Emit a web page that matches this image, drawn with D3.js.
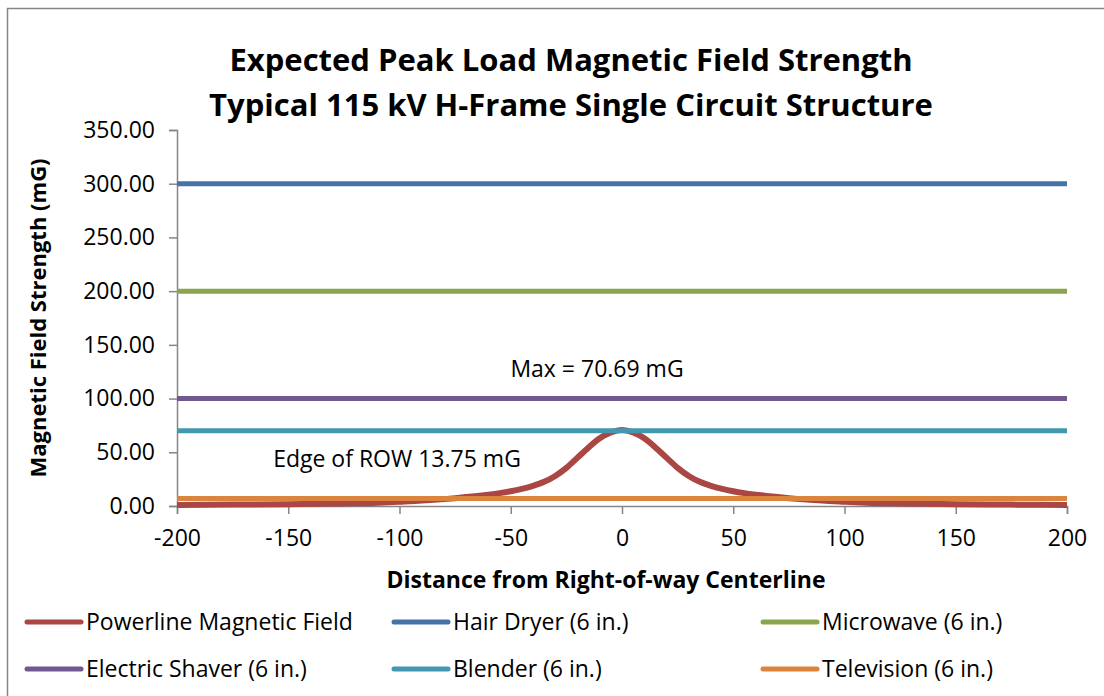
<!DOCTYPE html>
<html>
<head>
<meta charset="utf-8">
<script src="https://cdn.jsdelivr.net/npm/d3@7"></script>
<style>
  body { margin: 0; background: #fff; }
  text { font-family: "Open Sans", sans-serif; fill: #000; }
</style>
</head>
<body>
<div id="chart"></div>
<script>
/* Data */
var distance = [-200, -175, -150, -125, -110, -100, -90, -80, -75, -70, -65, -60, -55, -50, -45, -40, -35, -30, -25, -20, -15, -10, -5,
                0, 5, 10, 15, 20, 25, 30, 35, 40, 45, 50, 55, 60, 65, 70, 75, 80, 90, 100, 110, 125, 150, 175, 200];
var powerline = [1.0, 1.3, 1.7, 2.4, 3.1, 4.0, 5.0, 6.4, 7.3, 8.3, 9.4, 10.6, 12.0, 13.75, 16.0, 18.8, 22.5, 28.0, 35.5, 45.0, 54.5, 63.0, 68.5,
                 70.69, 68.5, 63.0, 54.5, 45.0, 35.5, 28.0, 22.5, 18.8, 16.0, 13.75, 12.0, 10.6, 9.4, 8.3, 7.3, 6.4, 5.0, 4.0, 3.1, 2.4, 1.7, 1.3, 1.0];

var applianceNames = ["Hair Dryer (6 in.)", "Microwave (6 in.)", "Electric Shaver (6 in.)", "Blender (6 in.)", "Television (6 in.)"];
var applianceValues = [300, 200, 100, 70, 7];

var legendNames = ["Powerline Magnetic Field", "Hair Dryer (6 in.)", "Microwave (6 in.)",
                   "Electric Shaver (6 in.)", "Blender (6 in.)", "Television (6 in.)"];

var xTicks = [-200, -150, -100, -50, 0, 50, 100, 150, 200];
var yTicks = [0, 50, 100, 150, 200, 250, 300, 350];

/* Settings */
var width = 1104,
    height = 696,
    plotLeft = 177,
    plotRight = 1067,
    plotTop = 130,
    plotBottom = 506;

var colors = {
  "Powerline Magnetic Field": "#AA4643",
  "Hair Dryer (6 in.)": "#4572A7",
  "Microwave (6 in.)": "#89A54E",
  "Electric Shaver (6 in.)": "#71588F",
  "Blender (6 in.)": "#4198AF",
  "Television (6 in.)": "#DB843D"
};

var x = d3.scaleLinear().domain([-200, 200]).range([plotLeft, plotRight]);
var y = d3.scaleLinear().domain([0, 350]).range([plotBottom, plotTop]);

var svg = d3.select("#chart").append("svg")
    .attr("width", width)
    .attr("height", height);

/* Frame */
svg.append("rect")
  .attr("x", 7.5).attr("y", 8.5)
  .attr("width", 1120).attr("height", 720)
  .attr("fill", "none")
  .attr("stroke", "#868686")
  .attr("stroke-width", 1.5);

/* Title */
var title = svg.append("text")
  .attr("text-anchor", "middle")
  .attr("font-weight", "bold")
  .attr("font-size", 31);
title.append("tspan").attr("x", 571).attr("y", 71).text("Expected Peak Load Magnetic Field Strength");
title.append("tspan").attr("x", 571).attr("y", 116).text("Typical 115 kV H-Frame Single Circuit Structure");

/* Axes */
var yAxis = svg.append("g")
  .attr("transform", "translate(" + plotLeft + ",0)")
  .call(d3.axisLeft(y).tickValues(yTicks).tickFormat(d3.format(".2f")).tickSize(8).tickPadding(14));

var xAxis = svg.append("g")
  .attr("transform", "translate(0," + plotBottom + ")")
  .call(d3.axisBottom(x).tickValues(xTicks).tickFormat(function(d) { return String(d); }).tickSize(8).tickPadding(16));

[xAxis, yAxis].forEach(function(g) {
  g.select(".domain").attr("stroke", "#868686").attr("stroke-width", 1.5);
  g.selectAll(".tick line").attr("stroke", "#868686").attr("stroke-width", 1.5);
  g.selectAll(".tick text").attr("font-size", 23).attr("font-family", "Open Sans").attr("fill", "#000");
});

/* Axis titles */
svg.append("text")
  .attr("transform", "translate(46,318) rotate(-90)")
  .attr("text-anchor", "middle")
  .attr("font-weight", "bold")
  .attr("font-size", 22)
  .text("Magnetic Field Strength (mG)");

svg.append("text")
  .attr("x", 606).attr("y", 588)
  .attr("text-anchor", "middle")
  .attr("font-weight", "bold")
  .attr("font-size", 23)
  .text("Distance from Right-of-way Centerline");

/* Series */
var line = d3.line()
  .x(function(d, i) { return x(distance[i]); })
  .y(function(d) { return y(d); })
  .curve(d3.curveMonotoneX);

svg.append("path")
  .datum(powerline)
  .attr("fill", "none")
  .attr("stroke", colors["Powerline Magnetic Field"])
  .attr("stroke-width", 6)
  .attr("d", line);

svg.selectAll(".appliance")
  .data(applianceValues)
  .enter().append("line")
  .attr("class", "appliance")
  .attr("x1", x(-200)).attr("x2", x(200))
  .attr("y1", function(d) { return y(d); })
  .attr("y2", function(d) { return y(d); })
  .attr("stroke", function(d, i) { return colors[applianceNames[i]]; })
  .attr("stroke-width", 5);

/* Annotations */
svg.append("text")
  .attr("x", 597).attr("y", 377)
  .attr("text-anchor", "middle")
  .attr("font-size", 23)
  .text("Max = 70.69 mG");

svg.append("text")
  .attr("x", 397).attr("y", 467)
  .attr("text-anchor", "middle")
  .attr("font-size", 23)
  .text("Edge of ROW 13.75 mG");

/* Legend */
var legendX = [27, 394, 763],
    legendY = [622, 669];

var legend = svg.selectAll(".legend")
  .data(legendNames)
  .enter().append("g")
  .attr("class", "legend")
  .attr("transform", function(d, i) {
    return "translate(" + legendX[i % 3] + "," + legendY[Math.floor(i / 3)] + ")";
  });

legend.append("line")
  .attr("x1", 0).attr("x2", 54)
  .attr("stroke", function(d) { return colors[d]; })
  .attr("stroke-width", 5)
  .attr("stroke-linecap", "round");

legend.append("text")
  .attr("x", 59).attr("y", 8)
  .attr("font-size", 23)
  .text(function(d) { return d; });
</script>
</body>
</html>
